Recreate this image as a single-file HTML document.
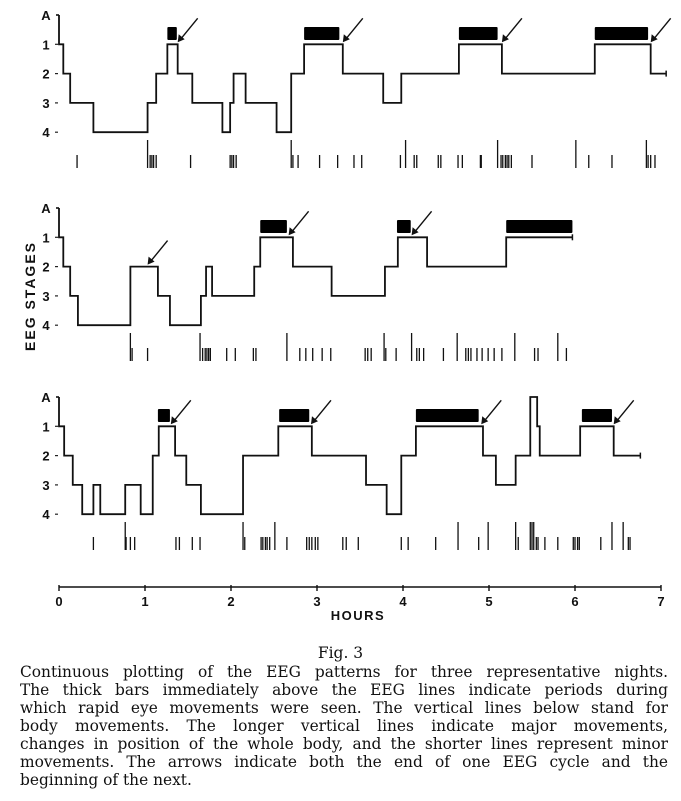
<!DOCTYPE html>
<html><head><meta charset="utf-8"><style>
body{margin:0;background:#fff;width:681px;height:801px;overflow:hidden;position:relative}
svg{position:absolute;left:0;top:0}
#cap{position:absolute;left:20px;top:663px;width:648px;font-family:"DejaVu Serif",serif;font-size:15.4px;line-height:18px;color:#111}
#cap div{text-align:justify;text-align-last:justify;white-space:nowrap;height:18px}
#cap div.last{text-align-last:left}
#fig{position:absolute;left:0;top:644px;width:681px;text-align:center;font-family:"DejaVu Serif",serif;font-size:15.5px;color:#111}
</style></head><body>
<svg id="chart" width="681" height="640" xmlns="http://www.w3.org/2000/svg" font-family="Liberation Sans, sans-serif"></svg>
<div id="fig">Fig. 3</div>
<div id="cap">
<div>Continuous plotting of the EEG patterns for three representative nights.</div>
<div>The thick bars immediately above the EEG lines indicate periods during</div>
<div>which rapid eye movements were seen. The vertical lines below stand for</div>
<div>body movements. The longer vertical lines indicate major movements,</div>
<div>changes in position of the whole body, and the shorter lines represent minor</div>
<div>movements. The arrows indicate both the end of one EEG cycle and the</div>
<div class="last">beginning of the next.</div>
</div>
<script>
// Night 1
const n1Times=[0,0.05,0.13,0.40,1.03,1.13,1.26,1.38,1.55,1.90,1.99,2.03,2.17,2.53,2.70,2.85,3.30,3.77,3.98,4.65,5.15,6.23,6.88];
const n1Stages=[1,2,3,4,3,2,1,2,3,4,3,2,3,4,2,1,2,3,2,1,2,1,2];
const n1End=7.06;
const n1RemStart=[1.26,2.85,4.65,6.23];
const n1RemEnd=[1.37,3.26,5.10,6.85];
const n1Arrows=[1.38,3.30,5.15,6.88];
const n1ArrowStage=[1,1,1,1];
const n1Moves=[0.21,1.03,1.06,1.08,1.10,1.13,1.53,1.99,2.01,2.03,2.06,2.70,2.72,2.78,3.03,3.24,3.43,3.52,3.97,4.03,4.13,4.16,4.41,4.44,4.64,4.69,4.90,4.91,5.10,5.14,5.16,5.19,5.21,5.23,5.26,5.50,6.01,6.16,6.43,6.83,6.85,6.88,6.93];
const n1Major=[1.03,2.70,4.03,5.10,6.01,6.83];
// Night 2
const n2Times=[0,0.05,0.13,0.22,0.83,1.15,1.29,1.65,1.71,1.78,2.27,2.34,2.72,3.17,3.79,3.94,4.28,5.20];
const n2Stages=[1,2,3,4,2,3,4,3,2,3,2,1,2,3,2,1,2,1];
const n2End=5.97;
const n2RemStart=[2.34,3.93,5.20];
const n2RemEnd=[2.65,4.09,5.97];
const n2Arrows=[1.03,2.67,4.10];
const n2ArrowStage=[2,1,1];
const n2Moves=[0.83,0.85,1.03,1.64,1.67,1.70,1.72,1.74,1.76,1.95,2.05,2.26,2.29,2.65,2.80,2.87,2.95,3.06,3.16,3.56,3.59,3.63,3.78,3.80,3.92,4.10,4.16,4.19,4.24,4.47,4.63,4.73,4.76,4.79,4.86,4.92,4.99,5.06,5.15,5.30,5.53,5.57,5.80,5.90];
const n2Major=[0.83,1.64,2.65,3.78,4.10,4.63,5.30,5.80];
// Night 3
const n3Times=[0,0.06,0.16,0.27,0.40,0.48,0.77,0.95,1.09,1.16,1.35,1.48,1.65,2.14,2.55,2.94,3.57,3.81,3.98,4.15,4.93,5.08,5.31,5.48,5.56,5.59,6.06,6.45];
const n3Stages=[1,2,3,4,3,4,3,4,2,1,2,3,4,2,1,2,3,4,2,1,2,3,2,0,1,2,1,2];
const n3End=6.76;
const n3RemStart=[1.15,2.56,4.15,6.08];
const n3RemEnd=[1.29,2.91,4.88,6.43];
const n3Arrows=[1.30,2.93,4.91,6.45];
const n3ArrowStage=[1,1,1,1];
const n3Moves=[0.40,0.77,0.78,0.83,0.88,1.36,1.40,1.55,1.64,2.14,2.16,2.35,2.37,2.40,2.42,2.45,2.51,2.65,2.88,2.91,2.94,2.98,3.01,3.30,3.34,3.48,3.98,4.06,4.38,4.64,4.88,4.99,5.31,5.34,5.48,5.50,5.52,5.55,5.57,5.65,5.80,5.98,6.00,6.03,6.05,6.30,6.43,6.56,6.62,6.64];
const n3Major=[0.77,2.14,2.51,4.64,4.99,5.31,5.48,5.50,5.52,6.43,6.56];
const stageLabels=["A","1","2","3","4"];
const hourTicks=[0,1,2,3,4,5,6,7];

const NS="http://www.w3.org/2000/svg";
const svg=document.getElementById('chart');
const X=h=>59+86*h;
function mk(t,a,p){const e=document.createElementNS(NS,t);for(const k in a)e.setAttribute(k,a[k]);(p||svg).appendChild(e);return e;}
const panels=[
 {top:15,times:n1Times,stages:n1Stages,end:n1End,rs:n1RemStart,re:n1RemEnd,ar:n1Arrows,as:n1ArrowStage,mv:n1Moves,mj:n1Major},
 {top:208,times:n2Times,stages:n2Stages,end:n2End,rs:n2RemStart,re:n2RemEnd,ar:n2Arrows,as:n2ArrowStage,mv:n2Moves,mj:n2Major},
 {top:397,times:n3Times,stages:n3Stages,end:n3End,rs:n3RemStart,re:n3RemEnd,ar:n3Arrows,as:n3ArrowStage,mv:n3Moves,mj:n3Major}];
panels.forEach((p,pi)=>{
 const Y=s=>p.top+29.3*s;
 const g=mk('g',{});
 
 
 stageLabels.forEach((l,i)=>{
  const t=mk('text',{x:46,y:Y(i)+5,'font-size':13,'font-weight':'bold','text-anchor':'middle',fill:'#111'},g);
  t.textContent=l;
  
  
  if(i>0){mk('line',{x1:55,x2:58,y1:Y(i),y2:Y(i),stroke:'#222','stroke-width':1.2},g);}
 });
 mk('line',{x1:56,x2:X(0),y1:Y(0),y2:Y(0),stroke:'#111','stroke-width':1.6},g);
 let d='M'+X(0)+' '+Y(0);
 p.times.forEach((t,i)=>{d+=' L'+X(t)+' '+Y(p.stages[i]);const nt=i+1<p.times.length?p.times[i+1]:p.end;d+=' L'+X(nt)+' '+Y(p.stages[i]);});
 const path=mk('path',{d:d,fill:'none',stroke:'#111','stroke-width':1.8},g);
 
 
 const ls=p.stages[p.stages.length-1];
 mk('line',{x1:X(p.end),x2:X(p.end),y1:Y(ls)-3,y2:Y(ls)+3,stroke:'#111','stroke-width':1.5},g);
 p.rs.forEach((s,i)=>{
  const r=mk('rect',{x:X(s),y:p.top+12,width:X(p.re[i])-X(s),height:13,fill:'#000',rx:1},g);
  
  
 });
 p.ar.forEach((a,i)=>{
  const tx=X(a),ty=Y(p.as[i])-2;
  const ln=mk('line',{x1:tx+20,y1:ty-24,x2:tx+2,y2:ty-2,stroke:'#111','stroke-width':1.4},g);
  
  
  mk('path',{d:`M${tx} ${ty} L${tx+1} ${ty-8} L${tx+7} ${ty-3} Z`,fill:'#111'},g);
 });
 const base=p.top+153;
 p.mv.forEach(m=>{
  const major=p.mj.indexOf(m)>=0;
  const ln=mk('line',{x1:X(m),x2:X(m),y1:base-(major?28:13),y2:base,stroke:'#111','stroke-width':1.3},g);
  
  
 });
});
const ax=mk('g',{});


mk('line',{x1:X(0),x2:X(7),y1:587,y2:587,stroke:'#111','stroke-width':1.6},ax);
hourTicks.forEach(h=>{
 mk('line',{x1:X(h),x2:X(h),y1:585,y2:591,stroke:'#111','stroke-width':1.4},ax);
 const t=mk('text',{x:X(h),y:606,'font-size':13,'font-weight':'bold','text-anchor':'middle',fill:'#111'},ax);
 t.textContent=h;
 
 
});
const xt=mk('text',{x:358,y:620,'font-size':13,'font-weight':'bold','text-anchor':'middle',fill:'#111','letter-spacing':1.5},svg);
xt.textContent='HOURS';


const yt=mk('text',{x:0,y:0,'font-size':14,'font-weight':'bold','text-anchor':'middle',fill:'#111','letter-spacing':2,transform:'translate(35,296) rotate(-90)'},svg);
yt.textContent='EEG  STAGES';


</script>
</body></html>
